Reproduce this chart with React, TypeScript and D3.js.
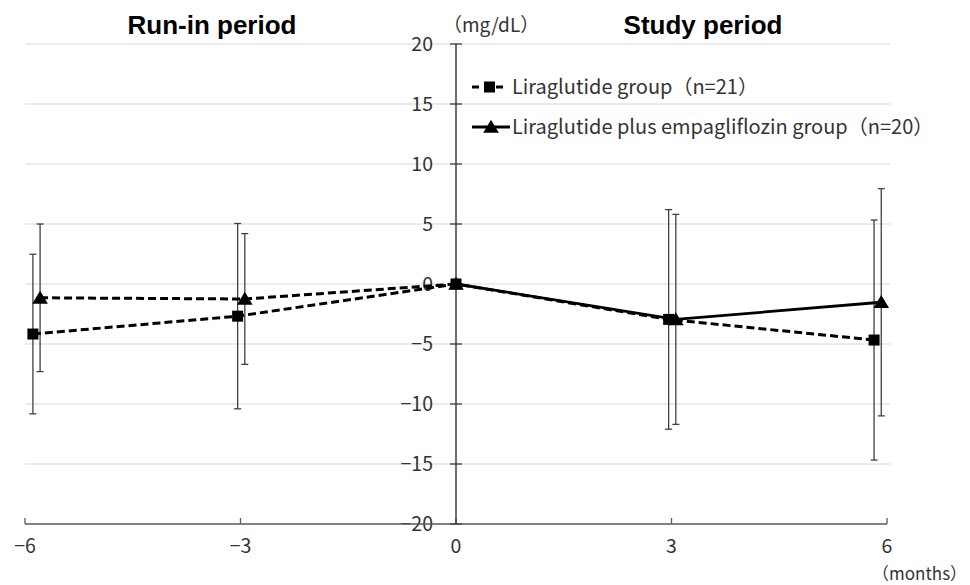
import React from "react";
import * as d3 from "d3";

const W = 970;
const H = 585;

// Liraglutide group (squares)
const liraX = [-5.89, -3.04, 0, 2.96, 5.82];
const liraMean = [-4.17, -2.68, 0, -2.95, -4.67];
const liraSD = [6.65, 7.72, 0, 9.15, 10.0];

// Liraglutide plus empagliflozin group (triangles)
const empaX = [-5.79, -2.94, 0, 3.06, 5.92];
const empaMean = [-1.15, -1.25, 0, -2.95, -1.52];
const empaSD = [6.15, 5.45, 0, 8.75, 9.47];

const xTicks = [-6, -3, 0, 3, 6];
const yTicks = [-20, -15, -10, -5, 0, 5, 10, 15, 20];
const legendLabels = ["Liraglutide group（n=21）", "Liraglutide plus empagliflozin group（n=20）"];
const periodLabels = ["Run-in period", "Study period"];

export default function App() {
  const x = d3.scaleLinear().domain([-6, 6]).range([25, 887]);
  const y = d3.scaleLinear().domain([-20, 20]).range([524, 44]);
  const line = d3.line<[number, number]>().x((d) => x(d[0])).y((d) => y(d[1]));

  const lira: [number, number][] = liraX.map((v, i) => [v, liraMean[i]]);
  const empa: [number, number][] = empaX.map((v, i) => [v, empaMean[i]]);
  const empaRun = empa.filter((d) => d[0] <= 0);
  const empaStudy = empa.filter((d) => d[0] >= 0);

  const font = "'Noto Sans CJK JP', 'Noto Sans', sans-serif";
  const errColor = "#404040";
  const cap = 3.5;

  const tri = (cx: number, cy: number, s: number) =>
    `M${cx},${cy - s * 0.55} L${cx + s * 0.6},${cy + s * 0.45} L${cx - s * 0.6},${cy + s * 0.45} Z`;

  const errBars = (xs: number[], ms: number[], sds: number[], key: string) =>
    xs.map((v, i) =>
      sds[i] > 0 ? (
        <g key={key + i} stroke={errColor} strokeWidth={1.3}>
          <line x1={x(v)} x2={x(v)} y1={y(ms[i] + sds[i])} y2={y(ms[i] - sds[i])} />
          <line x1={x(v) - cap} x2={x(v) + cap} y1={y(ms[i] + sds[i])} y2={y(ms[i] + sds[i])} />
          <line x1={x(v) - cap} x2={x(v) + cap} y1={y(ms[i] - sds[i])} y2={y(ms[i] - sds[i])} />
        </g>
      ) : null
    );

  return (
    <svg width={W} height={H} style={{ position: "absolute", left: 0, top: 0, background: "#fff" }}>
      <rect width={W} height={H} fill="#fff" />
      {/* gridlines */}
      {yTicks.filter((t) => t > -20).map((t) => (
        <line key={"g" + t} x1={25} x2={890} y1={y(t)} y2={y(t)} stroke="#d9d9d9" strokeWidth={1.2} />
      ))}
      {/* y tick labels */}
      {yTicks.map((t) => (
        <text key={"yl" + t} x={433} y={y(t) + 7} textAnchor="end" fontSize={19.5} fontFamily={font} fill="#333">
          {t < 0 ? "−" + Math.abs(t) : String(t)}
        </text>
      ))}
      {/* x axis */}
      <line x1={x(-6)} x2={x(6)} y1={y(-20)} y2={y(-20)} stroke="#595959" strokeWidth={1.5} />
      {xTicks.map((t) => (
        <line key={"xt" + t} x1={x(t)} x2={x(t)} y1={y(-20)} y2={y(-20) - 6} stroke="#595959" strokeWidth={1.3} />
      ))}
      {xTicks.map((t) => (
        <text key={"xl" + t} x={x(t)} y={553} textAnchor="middle" fontSize={19.5} fontFamily={font} fill="#333">
          {t < 0 ? "−" + Math.abs(t) : String(t)}
        </text>
      ))}
      {/* y axis */}
      <line x1={x(0)} x2={x(0)} y1={y(20)} y2={y(-20)} stroke="#404040" strokeWidth={1.5} />
      {yTicks.map((t) => (
        <line key={"yt" + t} x1={x(0) - 6} x2={x(0) + 6} y1={y(t)} y2={y(t)} stroke="#404040" strokeWidth={1.3} />
      ))}

      {/* error bars */}
      {errBars(liraX, liraMean, liraSD, "le")}
      {errBars(empaX, empaMean, empaSD, "ee")}

      {/* lines */}
      <path d={line(lira) || ""} fill="none" stroke="#000" strokeWidth={3} strokeDasharray="8,4" />
      <path d={line(empaRun) || ""} fill="none" stroke="#000" strokeWidth={3} strokeDasharray="8,4" />
      <path d={line(empaStudy) || ""} fill="none" stroke="#000" strokeWidth={2.8} />

      {/* markers */}
      {lira.map((d, i) => (
        <rect key={"sq" + i} x={x(d[0]) - 5.5} y={y(d[1]) - 5.5} width={11} height={11} fill="#000" />
      ))}
      {empa.map((d, i) => (
        <path key={"tr" + i} d={tri(x(d[0]), y(d[1]), 13)} fill="#000" />
      ))}

      {/* legend */}
      <line x1={472} x2={507} y1={87} y2={87} stroke="#000" strokeWidth={3} strokeDasharray="7,5" />
      <rect x={484} y={81.5} width={11} height={11} fill="#000" />
      <text x={512} y={94} fontSize={20} fontFamily={font} fill="#333">{legendLabels[0]}</text>
      <line x1={472} x2={510} y1={127} y2={127} stroke="#000" strokeWidth={2.8} />
      <path d={tri(491, 127, 13)} fill="#000" />
      <text x={512} y={134} fontSize={20} fontFamily={font} fill="#333">{legendLabels[1]}</text>

      {/* titles */}
      <text x={212} y={34} textAnchor="middle" fontSize={26} fontWeight="bold" fontFamily="'Liberation Sans', Arial, sans-serif" fill="#000">{periodLabels[0]}</text>
      <text x={703} y={34} textAnchor="middle" fontSize={26} fontWeight="bold" fontFamily="'Liberation Sans', Arial, sans-serif" fill="#000">{periodLabels[1]}</text>
      <text x={443} y={32} fontSize={19} fontFamily={font} fill="#333">（mg/dL）</text>
      <text x={872} y={580} fontSize={17} fontFamily={font} fill="#333">（months）</text>
    </svg>
  );
}
